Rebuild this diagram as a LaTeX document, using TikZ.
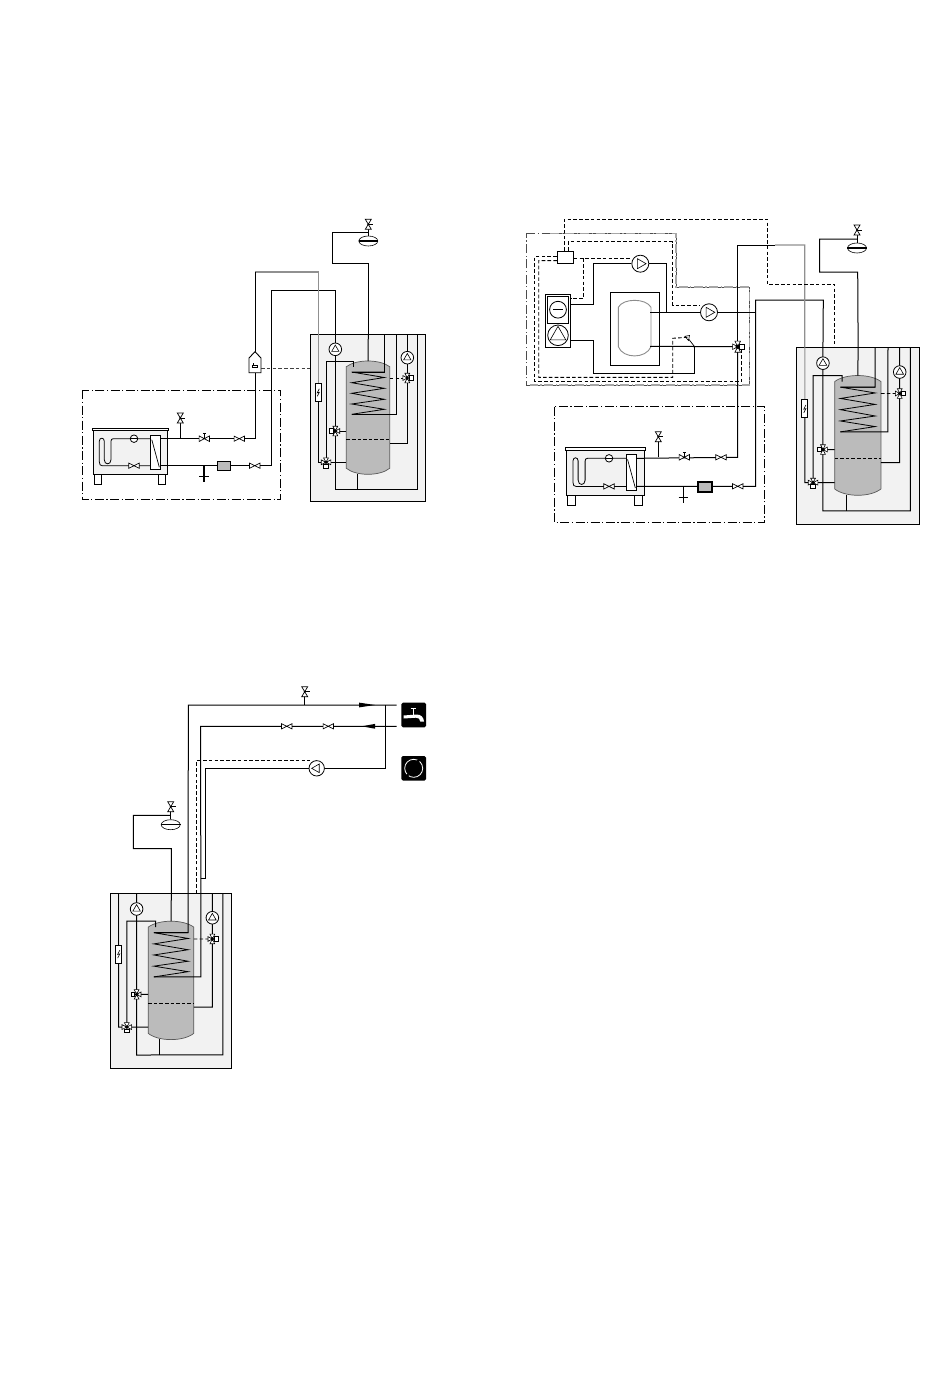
\documentclass[tikz,border=0pt]{standalone}
\usetikzlibrary{shapes.geometric}
\definecolor{pan}{HTML}{F2F2F2}
\definecolor{tankg}{HTML}{BBBBBB}
\definecolor{pipeg}{HTML}{909090}
\tikzset{
  x=1pt,y=-1pt,
  pipe/.style={line width=1pt,line join=miter},
  graypipe/.style={line width=1pt,draw=pipeg},
  ctl/.style={line width=0.9pt,dash pattern=on 3.6pt off 2.2pt},
  zone/.style={line width=0.8pt,dash pattern=on 9pt off 2.5pt on 1.2pt off 2.5pt},
  sym/.style={line width=0.7pt,draw=black,fill=white},
  pumpc/.style={circle,draw,line width=0.8pt,fill=white,inner sep=0pt,minimum size=#1},
  elem/.style={rectangle,draw,line width=0.8pt,fill=white,inner sep=0pt,minimum width=6pt,minimum height=18pt},
  dirt/.style={rectangle,draw,fill=tankg,inner sep=0pt},
  exptank/.style={ellipse,draw,line width=0.6pt,fill=white,inner sep=0pt,minimum width=19pt,minimum height=10pt},
  icon/.style={rectangle,rounded corners=1.5pt,fill=black,inner sep=0pt,minimum width=24.6pt,minimum height=24.6pt},
  bowv/.pic={\path[sym] (-5.2,-2.6)--(5.2,2.6)--(5.2,-2.6)--(-5.2,2.6)--cycle;},
  handlev/.pic={\path[sym] (-5.2,-2.8)--(5.2,2.8)--(5.2,-2.8)--(-5.2,2.8)--cycle;
     \draw[line width=0.7pt] (0,0)--(0,-5) (-1.5,-5)--(1.5,-5);},
  safetyv/.pic={\path[sym] (-3,-5)--(3,5)--(-3,5)--(3,-5)--cycle;
     \draw[line width=0.7pt] (0,0)--(5,0); \fill (0,0) circle (1.1pt);},
  mixv/.pic={\path[sym,line width=0.6pt] (-2.4,-4.8)--(2.4,4.8)--(-2.4,4.8)--(2.4,-4.8)--cycle;
     \path[sym,line width=0.6pt] (-4.4,-2.4)--(0,0)--(-4.4,2.4)--cycle;
     \path[sym,line width=0.7pt] (1.8,-2.3) rectangle (5.6,2.3);
     \fill (0,0) circle (1.9pt);},
}
% pump: name, x, y, diameter, rotation of triangle, radius
\newcommand\pumpat[6]{%
  \node[pumpc=#4] (#1) at (#2,#3) {};
  \draw[line width=0.6pt,shift={(#2,#3)},rotate=#5] (0,-#6)--(#6*0.86,#6*0.5)--(-#6*0.86,#6*0.5)--cycle;}
% storage tank module: prefix, x, y, xscale, yscale
\newcommand\tankmodule[5]{%
\begin{scope}[shift={(#2,#3)},xscale=#4,yscale=#5]
  \fill[pan] (0,0) rectangle (115.4,167.4);
  \draw[line width=0.9pt] (0,0) rectangle (115.4,167.4);
  \coordinate (#1-t8) at (8,0);
  \coordinate (#1-p) at (25,0);
  \coordinate (#1-t58) at (58,0);
  \coordinate (#1-t74) at (74,0);
  \coordinate (#1-t86) at (86,0);
  \coordinate (#1-t97) at (97,0);
  \coordinate (#1-t107) at (107,0);
  \coordinate (#1-m1) at (25,96.7);
  \coordinate (#1-m2) at (15.7,128);
  \coordinate (#1-m3) at (97,43.7);
  \coordinate (#1-b) at (47,154.7);
  \coordinate (#1-c) at (25,154.7);
  \path[fill=tankg,draw=black!65,line width=0.7pt] (36,32.4) .. controls (46,24.8) and (69.4,24.8) .. (79.4,32.4) -- (79.4,134) .. controls (69.4,142) and (46,142) .. (36,134) -- cycle;
  \coordinate (#1-apex) at (57.7,26.7);
  \coordinate (#1-bot) at (47,139.5);
  \draw[pipe,dash pattern=on 3.6pt off 2pt] (36,105)--(79.4,105);
  \draw[line width=0.8pt] (74,37.7)--(41.4,37.7)--(74,43.2)--(41.4,48.4)--(74,54)--(41.4,59)--(74,65)--(41.4,69.7)--(74,75)--(41.4,80);
  \draw[pipe] (41.4,37.7)--(74,37.7)--(#1-t74);
  \draw[pipe] (41.4,80)--(86,80)--(#1-t86);
  \draw[pipe] (#1-t58)--(#1-apex);
  \draw[pipe] (#1-t97)--(#1-m3)--(97,109)--(79.4,109);
  \draw[pipe] (#1-t107)--(107,154.7)--(#1-c)--(#1-m1)--(#1-p);
  \draw[pipe] (#1-bot)--(#1-b);
  \draw[pipe] (#1-m1)--(36,96.7);
  \draw[pipe] (#1-m2)--(36,128);
  \draw[pipe] (43,32.4)--(43,26.7)--(15.7,26.7)--(#1-m2);
  \draw[graypipe] (#1-t8)--(8,49);
  \draw[pipe] (8,49)--(8,128)--(#1-m2);
  \draw[ctl] (79.4,43.7)--(#1-m3);
  \node[elem] (#1-e) at (8,58.2) {};
  \draw[line width=0.6pt] (9,54.5)--(7,58.5)--(9,58)--(7,62);
  \pumpat{#1-pu1}{25}{15}{12.6pt}{0}{4.2}
  \pumpat{#1-pu2}{97}{23.4}{12.6pt}{0}{4.2}
  \pic[rotate=180] at (#1-m1) {mixv};
  \pic[rotate=-90] at (#1-m2) {mixv};
  \pic at (#1-m3) {mixv};
\end{scope}}
% boiler unit: prefix, x, y, scale
\newcommand\boilerunit[4]{%
\begin{scope}[shift={(#2,#3)},scale=#4]
  \draw[line width=0.8pt,fill=white] (1,43.6) rectangle (8.4,53.6);
  \draw[line width=0.8pt,fill=white] (65,43.6) rectangle (72.4,53.6);
  \draw[line width=0.9pt,fill=pan] (0,0) rectangle (74.4,43.6);
  \draw[line width=0.8pt,fill=white] (-1,-2.4) rectangle (75.4,0);
  \coordinate (#1-o1) at (67.4,8);
  \coordinate (#1-o2) at (67.4,35);
  \coordinate (#1-pm) at (40.7,8);
  \coordinate (#1-vl) at (40.7,35);
  \draw[line width=0.8pt] (57,8)--(20,8) .. controls (18.5,8) and (17.7,9) .. (17.7,10.5)--(17.7,29) .. controls (17.7,34.5) and (11,34.5) .. (11,29)--(11,10.5) .. controls (11,6.5) and (6,6.5) .. (6,10.5)--(6,31) .. controls (6,34) and (7,35) .. (9,35)--(57,35);
  \node[pumpc=7.5pt] (#1-pu) at (#1-pm) {};
  \draw[line width=0.6pt] (#1-pu.west)--(#1-pu.east);
  \pic at (#1-vl) {bowv};
  \draw[line width=0.9pt,fill=white] (57,4.6) rectangle (67.4,38.6);
  \draw[line width=0.7pt] (58.5,9)--(66,36.5);
\end{scope}}
\newcommand\teebar[3]{\draw[line width=1.4pt] (#1) -- (#2,#3+5) (#2-4.7,#3)--(#2+4.7,#3);}
\begin{document}
\begin{tikzpicture}
\useasboundingbox (0,0) rectangle (950,1378);
% ================= top-left diagram
\draw[zone] (82.3,390.3) rectangle (280.7,499.3);
\tankmodule{A}{310.3}{334.3}{1}{1}
\boilerunit{U}{93.3}{430.7}{1}
\coordinate (Atee1) at (180.3,438.7);
\coordinate (Aval1) at (204.3,438.7);
\coordinate (Aval2) at (239.3,438.7);
\coordinate (Asv) at (180.3,418);
\coordinate (Atee2) at (204,465.7);
\coordinate (Aval3) at (254.7,465.7);
\draw[pipe] (U-o1)--(255,438.7)--(255,372.7);
\draw[pipe] (Atee1)--(Asv);
\draw[pipe] (U-o2)--(271.7,465.7)--(271.7,290.3)--(335.3,290.3)--(A-p);
\teebar{Atee2}{204}{476.7}
\node[dirt,line width=0.7pt,minimum width=13pt,minimum height=9pt] (Adirt) at (223.8,465.8) {};
\draw[line width=1.5pt,draw=pipeg] (255,272)--(318.3,272)--(A-t8);
\draw[pipe] (255,272)--(255,351.7);
\path[sym,line width=0.9pt] (249,358)--(255,351.7)--(261,358)--(261,372.7)--(249,372.7)--cycle;
\draw[line width=0.6pt] (252.5,364.8)--(252.5,367.7)--(257.5,367.7)--(257.5,364.8)--(252.5,364.8) (253,364.8)--(253,362.5);
\draw[ctl,draw=black!75] (261,368.3)--(310.3,368.3);
\pic at (Aval1) {handlev};
\pic at (Aval2) {bowv};
\pic at (Aval3) {bowv};
\pic at (Asv) {safetyv};
% expansion
\node[exptank] (Aexp) at (368.3,241) {};
\coordinate (Asv2) at (368.3,224.3);
\draw[line width=1.5pt] (Aexp.west)--(Aexp.east);
\draw[pipe] (Asv2)--(Aexp.north);
\draw[pipe] (368.3,232.3)--(332.3,232.3)--(332.3,263)--(368.3,263)--(A-t58);
\pic at (Asv2) {safetyv};
% ================= right diagram
\draw[draw=black!70,line width=0.8pt,dash pattern=on 9pt off 2.5pt on 1.2pt off 2.5pt] (526.3,233.3)--(676,233.3)--(676,287)--(749.3,287)--(749.3,385)--(526.3,385)--cycle;
\draw[draw=black!35,line width=1.3pt,dash pattern=on 9pt off 2.5pt on 1.2pt off 2.5pt] (550,233.3)--(676,233.3)--(676,287)--(749.3,287)--(749.3,385)--(530,385);
\draw[zone] (554.3,406.7) rectangle (764.7,522.3);
\tankmodule{B}{796.3}{347.3}{1.066}{1.057}
\boilerunit{V}{566.7}{450}{1.04}
\coordinate (Bmix) at (737.7,346.7);
\coordinate (Btee1) at (658.3,457.3);
\coordinate (Bval1) at (684.3,457.3);
\coordinate (Bval2) at (721,457.3);
\coordinate (Bsv) at (658.3,436.7);
\coordinate (Btee2) at (683.3,486.3);
\coordinate (Bval3) at (737.7,486.3);
\draw[pipe] (V-o1)--(737.7,457.3)--(Bmix);
\draw[pipe] (Btee1)--(Bsv);
\draw[pipe] (V-o2)--(755.7,486.3)--(755.7,300)--(823.3,300)--(B-p);
\teebar{Btee2}{683.3}{497.7}
\node[dirt,line width=1.7pt,minimum width=14pt,minimum height=10pt] (Bdirt) at (705,487) {};
\draw[pipe] (Bmix)--(737.7,245)--(775,245);
\draw[line width=1.2pt,draw=pipeg] (775,245)--(804.8,245)--(B-t8);
\pic at (Bval1) {handlev};
\pic at (Bval2) {bowv};
\pic at (Bval3) {bowv};
\pic at (Bsv) {safetyv};
% expansion
\node[exptank] (Bexp) at (857,248) {};
\coordinate (Bsv2) at (857,230);
\draw[line width=1.5pt] (Bexp.west)--(Bexp.east);
\draw[pipe] (Bsv2)--(Bexp.north);
\draw[pipe] (857,239)--(819.7,239)--(819.7,272)--(857.7,272)--(B-t58);
\pic at (Bsv2) {safetyv};
% heat pump block
\node[rectangle,draw,line width=0.9pt,fill=white,inner sep=0pt,minimum width=49pt,minimum height=73.4pt] (Hin) at (634.8,329) {};
\coordinate (Htop) at (650,312.3);
\coordinate (Hbot) at (650,346.3);
\path[draw=black!45,fill=white,line width=0.9pt] (618.3,307.3) .. controls (623,298) and (646,298) .. (651,307.3) -- (651,346.7) .. controls (646,359) and (623,359) .. (618.3,346.7) -- cycle;
\node[rectangle,draw,line width=0.9pt,fill=white,inner sep=0pt,minimum width=25.4pt,minimum height=53.4pt] (Hp) at (558,321) {};
\node[rectangle,draw,line width=0.9pt,fill=white,inner sep=0pt,minimum width=21.4pt,minimum height=27.4pt] (Hc) at (558,310) {};
\node[pumpc=16.8pt] (Hc1) at (558,309.7) {};
\draw[line width=0.7pt] (553,309.7)--(563,309.7);
\node[rectangle,draw,line width=0.9pt,fill=white,inner sep=0pt,minimum width=16pt,minimum height=12pt] (Ctrl) at (565.3,257.3) {};
\pumpat{Pu1}{640.3}{263.7}{17pt}{-90}{5.8}
\pumpat{Pu2}{709}{312.3}{17pt}{-90}{5.8}
\pumpat{Hc2}{558}{335.3}{20.6pt}{0}{9}
\coordinate (Hs) at (687.3,337.3);
\draw[pipe] (570.7,304.3)--(593.3,304.3)--(593.3,263.7)--(Pu1);
\draw[pipe] (Pu1)--(666.7,263.7)--(666.7,312.3);
\draw[pipe] (Htop)--(Pu2);
\draw[pipe] (Pu2)--(755.7,312.3);
\draw[pipe] (570.7,340.3)--(593.3,340.3)--(593.3,373.3)--(694.3,373.3)--(694.3,346.3);
\draw[pipe] (Hbot)--(Bmix);
\draw[line width=0.7pt] (Hs)--(694.3,346.3);
\draw[line width=0.6pt,fill=white] (684.8,336.3)--(689.5,335.5)--(688.5,340.5)--cycle;
\draw[ctl] (Ctrl.north) ++(-1,0)--(564.3,219.3)--(767.3,219.3)--(767.3,284.3)--(834.7,284.3)--(834.7,347.3);
\draw[ctl] (Ctrl.north) ++(3,0)--(568.3,241.7)--(672.7,241.7)--(672.7,305)--(700.3,305);
\draw[ctl] (Ctrl.west) ++(0,-0.7)--(534.7,256.6)--(534.7,381.7)--(741.7,381.7)--(741.7,350);
\draw[ctl] (Ctrl.west) ++(0,3.3)--(538.7,260.6)--(538.7,377.3)--(672.7,377.3)--(672.7,338.3)--(Hs);
\draw[ctl] (Ctrl.east) ++(0,1)--(Pu1.west |- 258.3,258.3);
\draw[ctl] (583.3,258.3)--(583.3,298.3)--(570.7,298.3);
\pic[scale=1.15] at (Bmix) {mixv};
% ================= bottom-left diagram
\tankmodule{C}{110.3}{893.3}{1.052}{1.045}
\draw[pipe] (C-t8)--(C-e.north);
\coordinate (Csv) at (304.7,691.7);
\coordinate (Cval1) at (286.7,726.3);
\coordinate (Cval2) at (328.3,726.3);
\node[icon] (Tap) at (413.7,715) {};
\node[icon] (Circ) at (413.7,768.3) {};
\pumpat{Cp}{316.7}{768.3}{15.4pt}{90}{5}
\coordinate (Ctapa) at (396.7,705);
\coordinate (Ctapb) at (396.7,726.3);
\draw[pipe] (C-t74)--(188.3,705)--(Ctapa);
\draw[pipe] (C-t86)--(200.7,726.3)--(Ctapb);
\draw[pipe] (200.7,878.3)--(205.7,878.3)--(205.7,768.3)--(Cp);
\draw[pipe] (Cp)--(385.3,768.3)--(385.3,705);
\draw[pipe] (304.7,705)--(Csv);
\draw[ctl] (196.7,893.3)--(196.7,760.3)--(309.5,760.3);
\fill (359,702.6)--(375,705)--(359,707.4)--cycle;
\fill (375,723.9)--(361.7,726.3)--(375,728.7)--cycle;
\pic at (Csv) {safetyv};
\pic at (Cval1) {bowv};
\pic at (Cval2) {bowv};
% expansion
\node[exptank] (Cexp) at (170.7,824.7) {};
\coordinate (Csv2) at (170.7,806.7);
\draw[line width=1.5pt] (Cexp.west)--(Cexp.east);
\draw[pipe] (Csv2)--(Cexp.north);
\draw[pipe] (170.7,815.3)--(133.3,815.3)--(133.3,848.7)--(171.3,848.7)--(C-t58);
\pic at (Csv2) {safetyv};
% tap and circulation icons
\fill[white] (403.5,715.5)--(416.5,714.5) .. controls (421,714.5) and (423.5,717) .. (424,721.5)--(420.3,721.5) .. controls (420,719) and (418.5,717.5) .. (416,717.7)--(403.5,718.5)--cycle;
\draw[white,line width=1.3pt] (413.4,708.5)--(413.4,715) (410.6,708.5)--(416.2,708.5);
\draw[white,line width=0.8pt] (413.7,768.3) circle (9pt);
\fill[black] (418.5,760.6) circle (1.7pt);
\fill[black] (407.5,775.2) circle (1.7pt);
\end{tikzpicture}
\end{document}
